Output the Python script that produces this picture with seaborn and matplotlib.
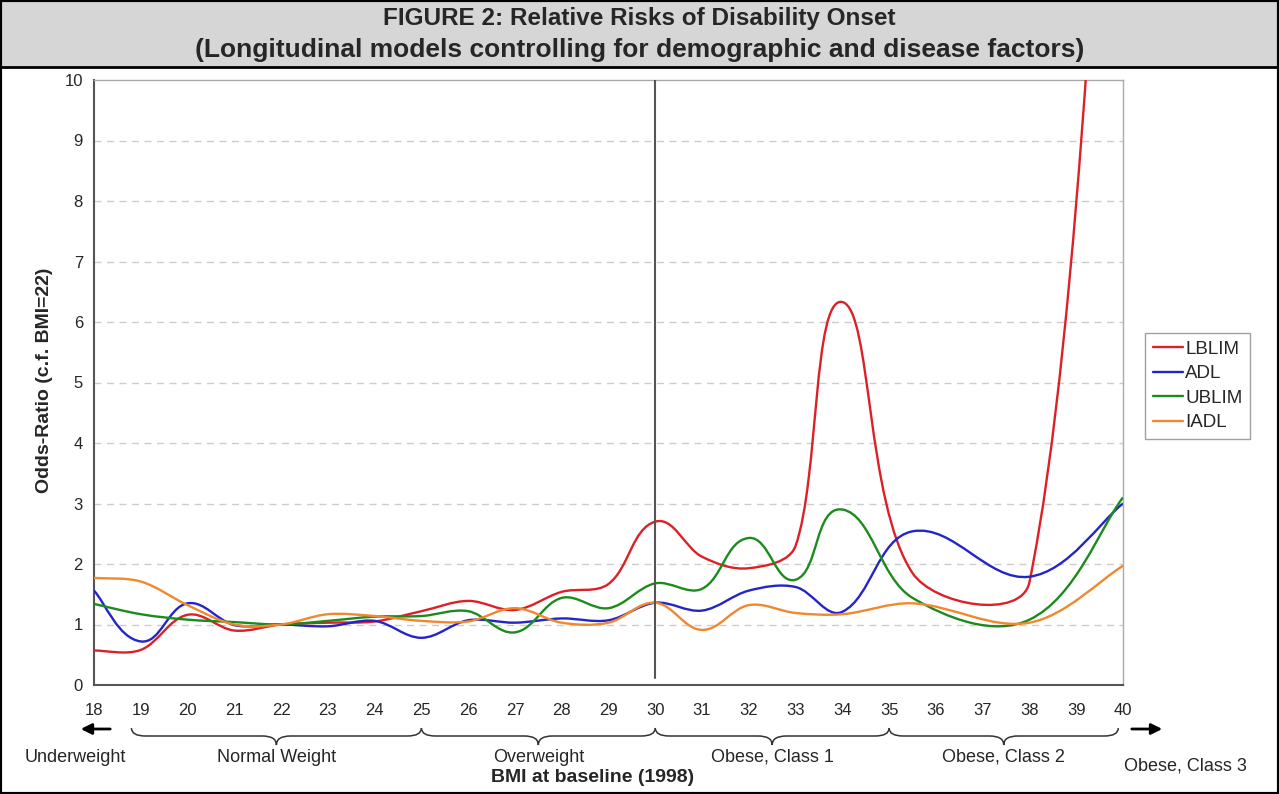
import numpy as np
import matplotlib
matplotlib.use("Agg")
import matplotlib.pyplot as plt
import matplotlib.transforms as mtrans
import seaborn as sns
from matplotlib.path import Path
from matplotlib.patches import PathPatch, Rectangle
from matplotlib.lines import Line2D

# Style
sns.set_style("white")
plt.rcParams['font.family'] = ['Liberation Sans', 'DejaVu Sans']

# BMI values where the odds-ratios were estimated
bmi = [18, 19, 20, 21, 22, 23, 24, 25, 26, 27, 28, 29, 30, 31, 32, 33, 34, 35.5, 38, 40]

# Odds-ratios (reference BMI=22)
lblim = [0.57, 0.58, 1.16, 0.90, 1.00, 1.03, 1.05, 1.22, 1.39, 1.24, 1.54, 1.67,
         2.70, 2.12, 1.93, 2.30, 6.33, 1.85, 1.70, 19.0]
adl = [1.56, 0.72, 1.35, 0.99, 1.00, 0.97, 1.06, 0.78, 1.07, 1.03, 1.10, 1.07,
       1.36, 1.23, 1.56, 1.62, 1.21, 2.54, 1.79, 3.00]
ublim = [1.34, 1.17, 1.08, 1.04, 1.00, 1.06, 1.13, 1.14, 1.22, 0.87, 1.44, 1.27,
         1.68, 1.59, 2.43, 1.74, 2.90, 1.44, 1.08, 3.10]
iadl = [1.77, 1.71, 1.32, 1.00, 1.00, 1.17, 1.14, 1.06, 1.05, 1.27, 1.03, 1.03,
        1.36, 0.91, 1.32, 1.19, 1.17, 1.35, 1.03, 1.97]

series_names = ['LBLIM', 'ADL', 'UBLIM', 'IADL']
series_values = [lblim, adl, ublim, iadl]
colors = sns.color_palette(['#dc2026', '#2424c8', '#1d8a1d', '#f0882e'])

# BMI category labels below the axis
groups = ['Normal Weight', 'Overweight', 'Obese, Class 1', 'Obese, Class 2']
group_edges = [(18.8, 25), (25, 30), (30, 35), (35, 39.9)]

W, H = 1279, 794


def smooth_path(xs, ys, sx=46.8, sy=60.5):
    # Excel-like smoothed line: Bezier segments through the data points;
    # arm along the neighbour chord, length limited by segment and chord
    P = np.column_stack([np.asarray(xs, float) * sx, np.asarray(ys, float) * sy])
    n = len(P)
    seg = np.linalg.norm(np.diff(P, axis=0), axis=1)
    verts = [P[0]]
    codes = [Path.MOVETO]
    for i in range(n - 1):
        p0 = P[i - 1] if i > 0 else P[i]
        p1, p2 = P[i], P[i + 1]
        p3 = P[i + 2] if i + 2 < n else P[i + 1]
        d = seg[i]
        t1, t2 = p2 - p0, p3 - p1
        n1, n2 = np.linalg.norm(t1), np.linalg.norm(t2)
        c1 = p1 + t1 / n1 * min(d / 3, n1 / 4)
        c2 = p2 - t2 / n2 * min(d / 3, n2 / 4)
        verts += [c1, c2, p2]
        codes += [Path.CURVE4] * 3
    verts = np.array(verts) / [sx, sy]
    return Path(verts, codes)


fig = plt.figure(figsize=(W / 100, H / 100), dpi=100)
ax = fig.add_axes([94 / W, 1 - 685 / H, (1123 - 94) / W, (685 - 80) / H])

# title band
fig.patches.append(Rectangle((0, 1 - 67 / H), 1, 67 / H, transform=fig.transFigure,
                             facecolor='#d6d6d6', edgecolor='none', zorder=0))
fig.add_artist(Line2D([0, 1], [1 - 67 / H] * 2, transform=fig.transFigure, color='black', lw=2))
fig.patches.append(Rectangle((0, 0), 1, 1, transform=fig.transFigure, fill=False,
                             edgecolor='black', lw=3, zorder=10))
fig.text(0.5, 1 - 18 / H, 'FIGURE 2: Relative Risks of Disability Onset',
         ha='center', va='center', fontsize=17.5, fontweight='bold')
fig.text(0.5, 1 - 50 / H, '(Longitudinal models controlling for demographic and disease factors)',
         ha='center', va='center', fontsize=19, fontweight='bold')

# curves
for name, vals, col in zip(series_names, series_values, colors):
    ax.add_patch(PathPatch(smooth_path(bmi, vals), fill=False, edgecolor=col, lw=1.7, zorder=3))

ax.axvline(30, ymin=0.012, ymax=1, color='#555555', lw=1.5, zorder=4)

ax.set_xlim(18, 40)
ax.set_ylim(0, 10)
ax.set_xticks(range(18, 41))
ax.set_yticks(range(0, 11))
for y in range(1, 10):
    ax.axhline(y, color='#cccccc', lw=1, ls=(0, (5, 4)), zorder=1)

for s in ['left', 'bottom']:
    ax.spines[s].set_color('#555555')
    ax.spines[s].set_linewidth(1.5)
for s in ['top', 'right']:
    ax.spines[s].set_color('#aaaaaa')
    ax.spines[s].set_linewidth(1)
ax.tick_params(axis='both', direction='out', length=4, width=1, color='#555555', labelsize=12)
ax.tick_params(axis='x', pad=9)
ax.tick_params(axis='y', pad=4)

fig.text(45 / W, 1 - 380 / H, 'Odds-Ratio (c.f. BMI=22)', rotation=90, ha='center', va='center',
         fontsize=14, fontweight='bold')
fig.text(593 / W, 1 - 777 / H, 'BMI at baseline (1998)', ha='center', va='center',
         fontsize=14, fontweight='bold')

# braces under the axis
tr = mtrans.blended_transform_factory(ax.transData, fig.transFigure)
y_top, y_line, y_tip = 1 - 728 / H, 1 - 736 / H, 1 - 745 / H
w = 0.3
for (x0, x1), label in zip(group_edges, groups):
    xc = (x0 + x1) / 2
    verts = [(x0, y_top), (x0, y_line), (x0 + w, y_line), (xc - w, y_line),
             (xc, y_line), (xc, y_tip), (xc, y_line), (xc + w, y_line),
             (x1 - w, y_line), (x1, y_line), (x1, y_top)]
    codes = [Path.MOVETO, Path.CURVE3, Path.CURVE3, Path.LINETO,
             Path.CURVE3, Path.CURVE3, Path.CURVE3, Path.CURVE3,
             Path.LINETO, Path.CURVE3, Path.CURVE3]
    fig.add_artist(PathPatch(Path(verts, codes), transform=tr, fill=False,
                             edgecolor='#333333', lw=1.1))
    fig.text(xc, 1 - 757 / H, label, transform=tr, ha='center', va='center', fontsize=13)

fig.text(75 / W, 1 - 757 / H, 'Underweight', ha='center', va='center', fontsize=13)
fig.text(1185 / W, 1 - 766 / H, 'Obese, Class 3', ha='center', va='center', fontsize=13)

# arrows
for xa, xb, ya in [(113, 78, 729), (1129, 1165, 729)]:
    ax.annotate('', xy=(xb, H - ya), xytext=(xa, H - ya), xycoords='figure pixels',
                textcoords='figure pixels', annotation_clip=False,
                arrowprops=dict(arrowstyle='-|>', color='black', lw=2, mutation_scale=16))

# legend
handles = [Line2D([], [], color=c, lw=1.7) for c in colors]
leg = fig.legend(handles, series_names, loc='upper left',
                 bbox_to_anchor=(1145 / W, 1 - 333 / H), fontsize=13.5, frameon=True,
                 fancybox=False, edgecolor='#888888', handlelength=1.6,
                 handletextpad=0.15, labelspacing=0.4, borderpad=0.4, borderaxespad=0)
leg.get_frame().set_linewidth(1)

fig.savefig('out.png', dpi=100)
